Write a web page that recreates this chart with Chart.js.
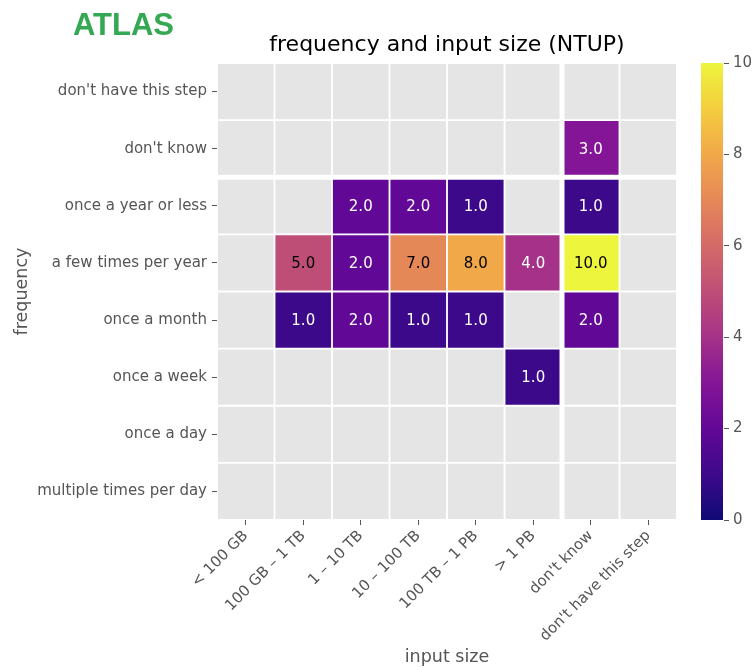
<!DOCTYPE html>
<html>
<head>
<meta charset="utf-8">
<script src="https://cdn.jsdelivr.net/npm/chart.js@4/dist/chart.umd.min.js"></script>
<style>
  html, body { margin: 0; padding: 0; background: #ffffff; }
  #wrap { position: relative; width: 753px; height: 668px; }
  #atlas { position: absolute; left: 73px; top: 9px; font: bold 31px "Liberation Sans", Arial, sans-serif; line-height: 31px; color: #34a853; }
</style>
</head>
<body>
<div id="wrap">
  <canvas id="chart" width="753" height="668"></canvas>
  <div id="atlas">ATLAS</div>
</div>
<script>
// ---- data ----
const inputSizes = ["< 100 GB", "100 GB – 1 TB", "1 – 10 TB", "10 – 100 TB", "100 TB – 1 PB", "> 1 PB", "don't know", "don't have this step"];
const frequencies = ["don't have this step", "don't know", "once a year or less", "a few times per year", "once a month", "once a week", "once a day", "multiple times per day"];
const colorbarTicks = [0, 2, 4, 6, 8, 10];

const rowDontHaveStep   = [null, null, null, null, null, null, null, null];
const rowDontKnow       = [null, null, null, null, null, null, 3,    null];
const rowOnceAYearLess  = [null, null, 2,    2,    1,    null, 1,    null];
const rowFewTimesYear   = [null, 5,    2,    7,    8,    4,    10,   null];
const rowOnceAMonth     = [null, 1,    2,    1,    1,    null, 2,    null];
const rowOnceAWeek      = [null, null, null, null, null, 1,    null, null];
const rowOnceADay       = [null, null, null, null, null, null, null, null];
const rowMultiplePerDay = [null, null, null, null, null, null, null, null];

const counts = [rowDontHaveStep, rowDontKnow, rowOnceAYearLess, rowFewTimesYear, rowOnceAMonth, rowOnceAWeek, rowOnceADay, rowMultiplePerDay];
const vmin = 0, vmax = 10;

// ---- plasma colormap (slightly muted, like the reference) ----
const plasmaStops = ["#0d0887","#41049d","#6a00a8","#8f0da4","#b12a90","#cc4778","#e16462","#f2844b","#fca636","#fcce25","#f0f921"];
const MUTE = 0.15;
function hexToRgb(h){ return [parseInt(h.slice(1,3),16), parseInt(h.slice(3,5),16), parseInt(h.slice(5,7),16)]; }
function mute(c){
  const l = 0.299*c[0] + 0.587*c[1] + 0.114*c[2];
  return c.map(v => Math.round(v + (l - v) * MUTE));
}
function rgbStr(c){ return `rgb(${c[0]},${c[1]},${c[2]})`; }
function plasma(t){
  t = Math.max(0, Math.min(1, t));
  const n = plasmaStops.length - 1;
  const i = Math.min(n - 1, Math.floor(t * n));
  const f = t * n - i;
  const a = hexToRgb(plasmaStops[i]), b = hexToRgb(plasmaStops[i+1]);
  return rgbStr(mute(a.map((v, k) => v + (b[k] - v) * f)));
}

const nRows = frequencies.length;
const datasets = counts.map((vals, ri) => {
  const r = nRows - 1 - ri;
  return {
    label: frequencies[ri],
    values: vals,
    data: vals.map(() => [r, r + 1]),
    backgroundColor: vals.map(v => v == null ? '#e5e5e5' : plasma((v - vmin) / (vmax - vmin))),
    borderColor: '#ffffff',
    borderWidth: 1.25,
    borderSkipped: false,
    grouped: false,
    barPercentage: 1,
    categoryPercentage: 1
  };
});

const FONT = 'DejaVu Sans';
const GREY = '#555555';

const separatorPlugin = {
  id: 'separators',
  afterDatasetsDraw(chart) {
    const ctx = chart.ctx, xs = chart.scales.x, ys = chart.scales.y, ca = chart.chartArea;
    ctx.save();
    ctx.strokeStyle = '#ffffff';
    ctx.lineWidth = 5;
    const rowIdx = frequencies.indexOf("don't know");
    const yb = ys.getPixelForValue(nRows - 1 - rowIdx);
    ctx.beginPath(); ctx.moveTo(ca.left, yb); ctx.lineTo(ca.right, yb); ctx.stroke();
    const colIdx = inputSizes.indexOf("don't know");
    const xb = (xs.getPixelForValue(colIdx - 1) + xs.getPixelForValue(colIdx)) / 2;
    ctx.beginPath(); ctx.moveTo(xb, ca.top); ctx.lineTo(xb, ca.bottom); ctx.stroke();
    ctx.restore();
  }
};

const labelPlugin = {
  id: 'cellLabels',
  afterDatasetsDraw(chart) {
    const ctx = chart.ctx;
    ctx.save();
    ctx.font = `15px "${FONT}"`;
    ctx.textAlign = 'center';
    ctx.textBaseline = 'middle';
    chart.data.datasets.forEach((ds, di) => {
      const meta = chart.getDatasetMeta(di);
      ds.values.forEach((v, i) => {
        if (v == null) return;
        const p = meta.data[i].getCenterPoint();
        ctx.fillStyle = ((v - vmin) / (vmax - vmin)) > 0.45 ? '#000000' : '#ffffff';
        ctx.fillText(v.toFixed(1), p.x, p.y + 1);
      });
    });
    ctx.restore();
  }
};

const colorbarPlugin = {
  id: 'colorbar',
  afterDraw(chart) {
    const cb = chart.scales.cb, ctx = chart.ctx;
    const top = cb.getPixelForValue(vmax), bottom = cb.getPixelForValue(vmin);
    const w = 22, x = cb.left - 23;
    const g = ctx.createLinearGradient(0, bottom, 0, top);
    plasmaStops.forEach((c, i) => g.addColorStop(i / (plasmaStops.length - 1), rgbStr(mute(hexToRgb(c)))));
    ctx.save();
    ctx.fillStyle = g;
    ctx.fillRect(x, top, w, bottom - top);
    ctx.restore();
  }
};

new Chart(document.getElementById('chart'), {
  type: 'bar',
  data: { labels: inputSizes, datasets },
  plugins: [separatorPlugin, labelPlugin, colorbarPlugin],
  options: {
    responsive: false,
    animation: false,
    devicePixelRatio: 1,
    layout: { padding: 0 },
    plugins: {
      legend: { display: false },
      tooltip: { enabled: false },
      title: {
        display: true,
        text: 'frequency and input size (NTUP)',
        fullSize: false,
        color: '#000000',
        font: { family: FONT, size: 22, weight: 'normal' },
        padding: { top: 32.5, bottom: 4.1 }
      }
    },
    scales: {
      x: {
        type: 'category',
        offset: true,
        grid: { offset: false, drawOnChartArea: false, tickLength: 5, color: GREY },
        border: { display: false },
        ticks: { autoSkip: false, minRotation: 45, maxRotation: 45, color: GREY, font: { family: FONT, size: 15 }, padding: 2 },
        title: { display: true, text: 'input size', color: GREY, font: { family: FONT, size: 17.5 }, padding: { top: 0, bottom: 0 } },
        afterFit(s) { s.height = 148; }
      },
      y: {
        type: 'linear',
        min: 0,
        max: nRows,
        afterBuildTicks(s) { s.ticks = frequencies.map((f, i) => ({ value: i + 0.5 })); },
        grid: { drawOnChartArea: false, tickLength: 5, color: GREY },
        border: { display: false },
        ticks: {
          color: GREY, font: { family: FONT, size: 15 }, padding: 5,
          callback: (v) => frequencies[nRows - 1 - Math.floor(v)]
        },
        title: { display: true, text: 'frequency', color: GREY, font: { family: FONT, size: 17.5 }, padding: { top: 12, bottom: 0 } },
        afterFit(s) { s.width = 217; }
      },
      cbbar: {
        type: 'linear',
        position: 'right',
        weight: 0,
        grid: { display: false },
        border: { display: false },
        ticks: { display: false },
        afterFit(s) { s.width = 47; }
      },
      cb: {
        type: 'linear',
        position: 'right',
        weight: 1,
        min: vmin,
        max: vmax,
        afterBuildTicks(s) { s.ticks = colorbarTicks.map(v => ({ value: v })); },
        grid: { drawOnChartArea: false, tickLength: 5, color: GREY },
        border: { display: false },
        ticks: { color: GREY, font: { family: FONT, size: 15 }, padding: 4 },
        afterFit(s) { s.width = 29; }
      }
    }
  }
});
</script>
</body>
</html>
